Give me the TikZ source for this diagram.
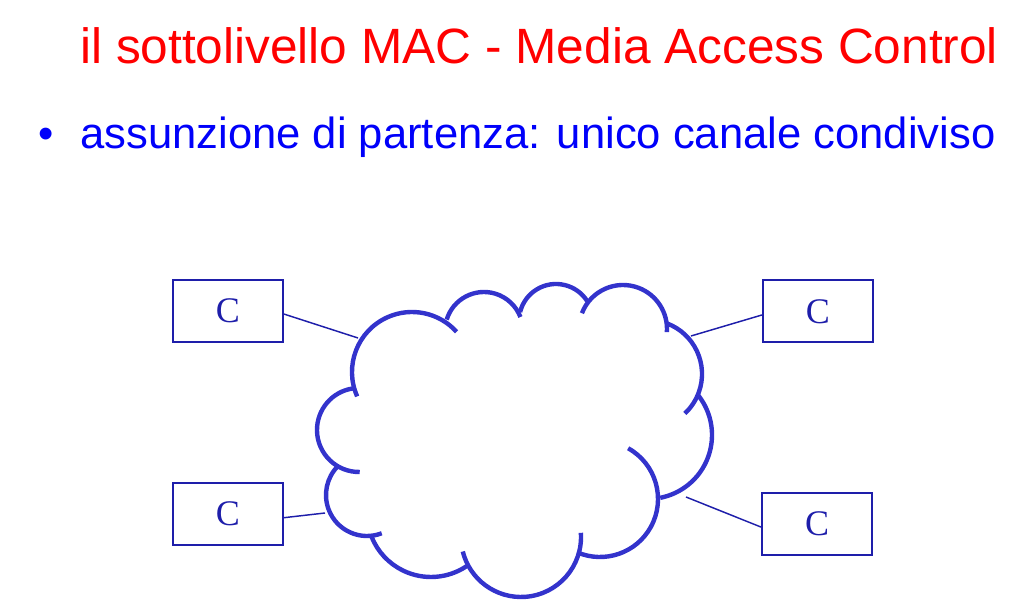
\documentclass[tikz,border=0pt]{standalone}
\usepackage{fontspec}
\setmainfont{Liberation Sans}
\newfontfamily\serifC{Liberation Serif}

\definecolor{titlered}{RGB}{255,0,0}
\definecolor{textblue}{RGB}{0,0,250}
\definecolor{boxblue}{RGB}{30,30,170}
\definecolor{cloudblue}{RGB}{51,51,204}

\tikzset{
  station/.style={draw=boxblue, line width=1.5pt, shape=rectangle,
    minimum width=82.5pt, minimum height=46.5pt, inner sep=0pt,
    text=boxblue, font=\serifC\fontsize{27}{27}\selectfont},
  link/.style={draw=boxblue, line width=1.1pt},
  cloudarc/.style={draw=cloudblue, line width=3.3pt},
}

\begin{document}
\begin{tikzpicture}[x=0.75pt, y=0.75pt]
  \useasboundingbox (0,0) rectangle (1033,-605);

  \node[anchor=base west, inner sep=0pt, text=titlered,
    font=\fontsize{37.2}{40}\selectfont] (title) at (80,-63.3)
    {il sottolivello MAC - Media Access Control};
  \node[anchor=base west, inner sep=0pt, text=textblue,
    font=\fontsize{32.7}{36}\selectfont] (dot) at (38,-148.3) {•};
  \node[anchor=base west, inner sep=0pt, text=textblue,
    font=\fontsize{32.7}{36}\selectfont] (premise) at (80,-148.3)
    {assunzione di partenza: unico canale condiviso};

  % the shared channel
  \foreach \cx/\cy/\r/\a/\b in {412/372/60/204/42, 484/331/39/163/21,
      556/321/37/166/33, 623/329/44/159/-4, 648/374/54/70/-47,
      648/435/64/39/-79, 600/499/58/61/-113, 521/537/60/4/-166,
      431/513/64/-56/-158, 367/495/41/-69/-225, 359/430/42/-89/-262}
    \path[cloudarc] (\cx,-\cy) ++(\a:\r) arc[start angle=\a, end angle=\b, radius=\r];

  \coordinate (tlend) at (358,-338);
  \coordinate (blend) at (325,-513);
  \coordinate (trend) at (691,-336);
  \coordinate (brend) at (686,-497);

  \node[station] (tl) at (228,-311) {C};
  \node[station] (bl) at (228,-513.7) {C};
  \node[station] (tr) at (818,-311.5) {C};
  \node[station] (br) at (817,-524) {C};

  \path[link] ([yshift=-2.3pt] tl.east) to (tlend);
  \path[link] ([yshift=-3pt] bl.east) to (blend);
  \path[link] ([yshift=-2.6pt] tr.west) to (trend);
  \path[link] ([yshift=-2.3pt] br.west) to (brend);

\end{tikzpicture}
\end{document}
